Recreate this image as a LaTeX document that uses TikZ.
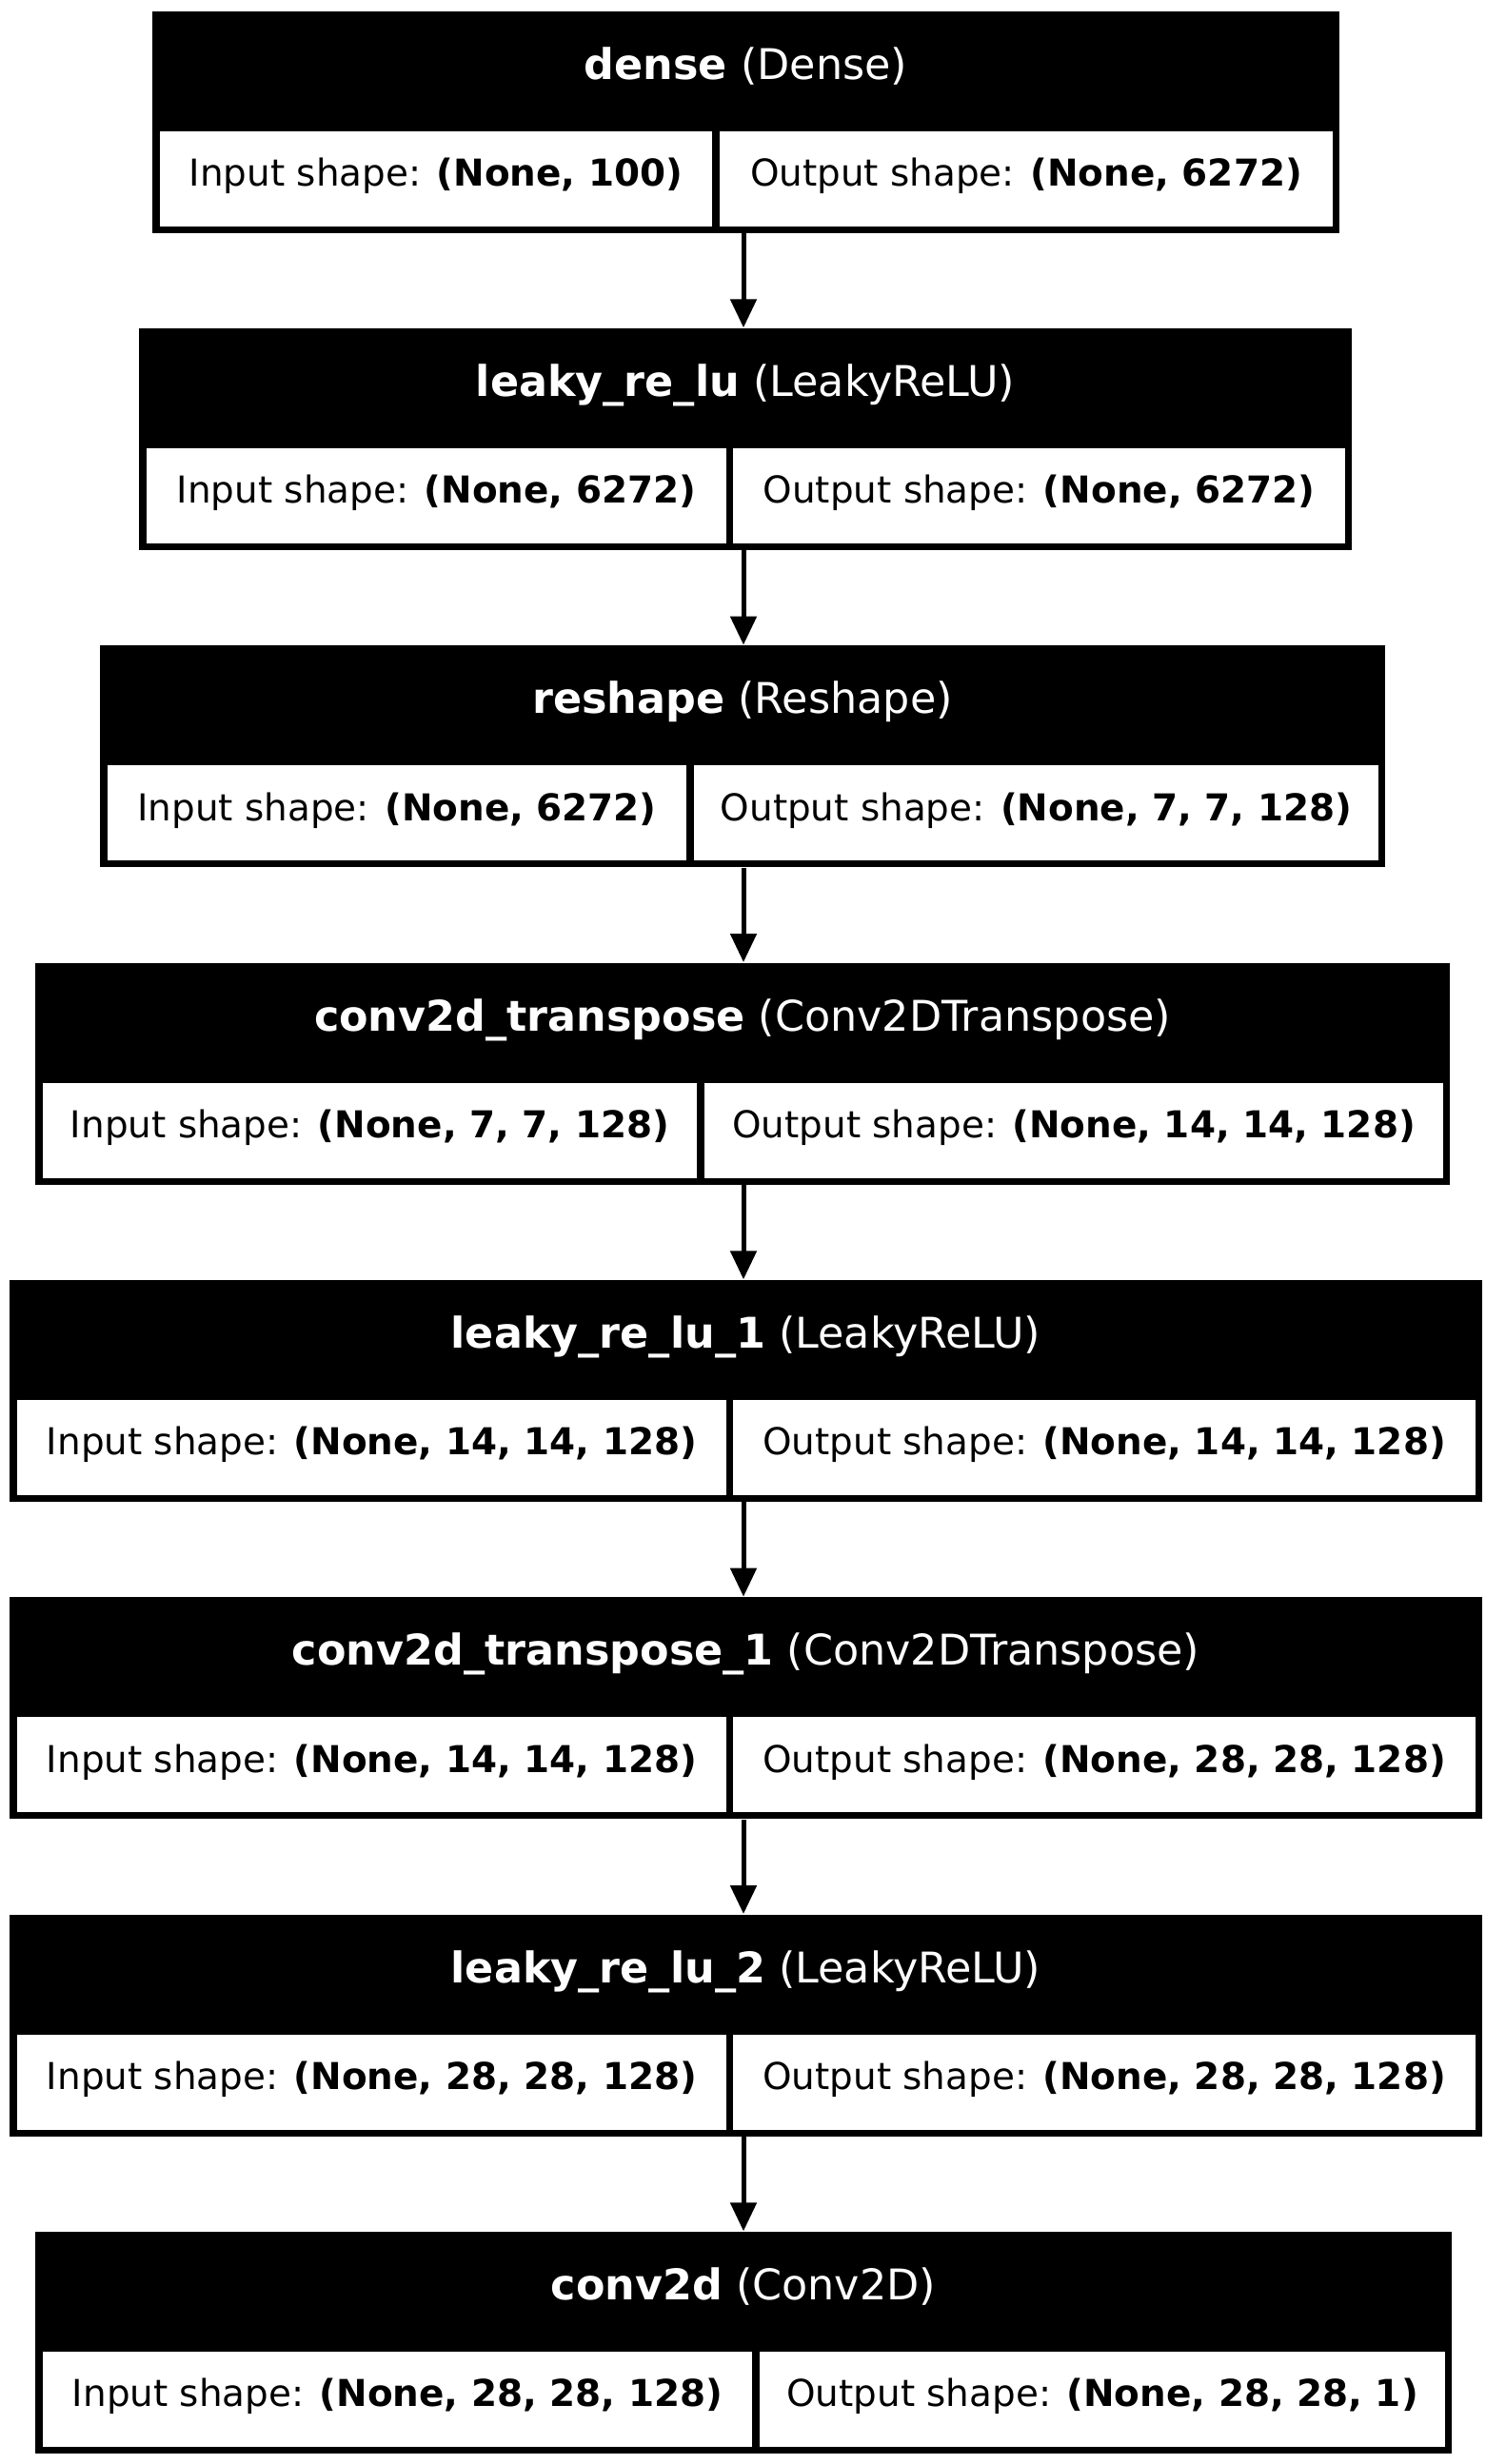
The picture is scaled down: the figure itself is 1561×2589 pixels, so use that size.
\documentclass[tikz,border=0pt]{standalone}
\usepackage{fontspec}
\setmainfont{DejaVu Sans}
\usetikzlibrary{positioning}
\usetikzlibrary{calc}
\usetikzlibrary{arrows.meta}

\begin{document}
\begin{tikzpicture}[x=0.36pt, y=-0.36pt,
    layer/.style={fill=black, inner sep=0pt, minimum height=233*0.36pt, anchor=north},
    title/.style={text=white, anchor=base, inner sep=0pt, font=\fontsize{16}{19}\selectfont},
    cell/.style={fill=white, inner sep=0pt, minimum height=100*0.36pt, text height=9.8pt, text depth=4.06pt, font=\fontsize{14}{17}\selectfont},
    incell/.style={cell, anchor=north west},
    outcell/.style={cell, anchor=north east},
    arrow/.style={-{Triangle[width=9.72pt, length=10.8pt]}, line width=1.8pt},
]
\useasboundingbox (0,0) rectangle (1561,2589);
\coordinate (axis) at (781,0);

\node[layer, minimum width=1247*0.36pt] (dense) at (783.5,11) {};
\node[title] (densetitle) at ($(dense.north)+(0,72)$) {\textbf{dense} (Dense)};
\node[incell, minimum width=580*0.36pt] (densein) at ($(dense.north west)+(8,126)$) {Input shape: \textbf{(None, 100)}};
\node[outcell, minimum width=644*0.36pt] (denseout) at ($(dense.north east)+(-7,126)$) {Output shape: \textbf{(None, 6272)}};

\node[layer, minimum width=1274*0.36pt] (leaky) at (783,344.3) {};
\node[title] (leakytitle) at ($(leaky.north)+(0,72)$) {\textbf{leaky\_re\_lu} (LeakyReLU)};
\node[incell, minimum width=609*0.36pt] (leakyin) at ($(leaky.north west)+(8,126)$) {Input shape: \textbf{(None, 6272)}};
\node[outcell, minimum width=643*0.36pt] (leakyout) at ($(leaky.north east)+(-7,126)$) {Output shape: \textbf{(None, 6272)}};

\node[layer, minimum width=1350*0.36pt] (reshape) at (780,677.6) {};
\node[title] (reshapetitle) at ($(reshape.north)+(0,72)$) {\textbf{reshape} (Reshape)};
\node[incell, minimum width=608*0.36pt] (reshapein) at ($(reshape.north west)+(8,126)$) {Input shape: \textbf{(None, 6272)}};
\node[outcell, minimum width=719*0.36pt] (reshapeout) at ($(reshape.north east)+(-7,126)$) {Output shape: \textbf{(None, 7, 7, 128)}};

\node[layer, minimum width=1486*0.36pt] (convt) at (780,1011) {};
\node[title] (convttitle) at ($(convt.north)+(0,72)$) {\textbf{conv2d\_transpose} (Conv2DTranspose)};
\node[incell, minimum width=687*0.36pt] (convtin) at ($(convt.north west)+(8,126)$) {Input shape: \textbf{(None, 7, 7, 128)}};
\node[outcell, minimum width=776*0.36pt] (convtout) at ($(convt.north east)+(-7,126)$) {Output shape: \textbf{(None, 14, 14, 128)}};

\node[layer, minimum width=1547*0.36pt] (leaky1) at (783.5,1344.3) {};
\node[title] (leaky1title) at ($(leaky1.north)+(0,72)$) {\textbf{leaky\_re\_lu\_1} (LeakyReLU)};
\node[incell, minimum width=745*0.36pt] (leaky1in) at ($(leaky1.north west)+(8,126)$) {Input shape: \textbf{(None, 14, 14, 128)}};
\node[outcell, minimum width=780*0.36pt] (leaky1out) at ($(leaky1.north east)+(-7,126)$) {Output shape: \textbf{(None, 14, 14, 128)}};

\node[layer, minimum width=1547*0.36pt] (convt1) at (783.5,1677.6) {};
\node[title] (convt1title) at ($(convt1.north)+(0,72)$) {\textbf{conv2d\_transpose\_1} (Conv2DTranspose)};
\node[incell, minimum width=745*0.36pt] (convt1in) at ($(convt1.north west)+(8,126)$) {Input shape: \textbf{(None, 14, 14, 128)}};
\node[outcell, minimum width=780*0.36pt] (convt1out) at ($(convt1.north east)+(-7,126)$) {Output shape: \textbf{(None, 28, 28, 128)}};

\node[layer, minimum width=1547*0.36pt] (leaky2) at (783.5,2011) {};
\node[title] (leaky2title) at ($(leaky2.north)+(0,72)$) {\textbf{leaky\_re\_lu\_2} (LeakyReLU)};
\node[incell, minimum width=745*0.36pt] (leaky2in) at ($(leaky2.north west)+(8,126)$) {Input shape: \textbf{(None, 28, 28, 128)}};
\node[outcell, minimum width=780*0.36pt] (leaky2out) at ($(leaky2.north east)+(-7,126)$) {Output shape: \textbf{(None, 28, 28, 128)}};

\node[layer, minimum width=1488*0.36pt] (conv) at (781,2344.3) {};
\node[title] (convtitle) at ($(conv.north)+(0,72)$) {\textbf{conv2d} (Conv2D)};
\node[incell, minimum width=745*0.36pt] (convin) at ($(conv.north west)+(8,126)$) {Input shape: \textbf{(None, 28, 28, 128)}};
\node[outcell, minimum width=720*0.36pt] (convout) at ($(conv.north east)+(-7,126)$) {Output shape: \textbf{(None, 28, 28, 1)}};

\draw[arrow] (dense.south -| axis) -- (leaky.north -| axis);
\draw[arrow] (leaky.south -| axis) -- (reshape.north -| axis);
\draw[arrow] (reshape.south -| axis) -- (convt.north -| axis);
\draw[arrow] (convt.south -| axis) -- (leaky1.north -| axis);
\draw[arrow] (leaky1.south -| axis) -- (convt1.north -| axis);
\draw[arrow] (convt1.south -| axis) -- (leaky2.north -| axis);
\draw[arrow] (leaky2.south -| axis) -- (conv.north -| axis);
\end{tikzpicture}
\end{document}
